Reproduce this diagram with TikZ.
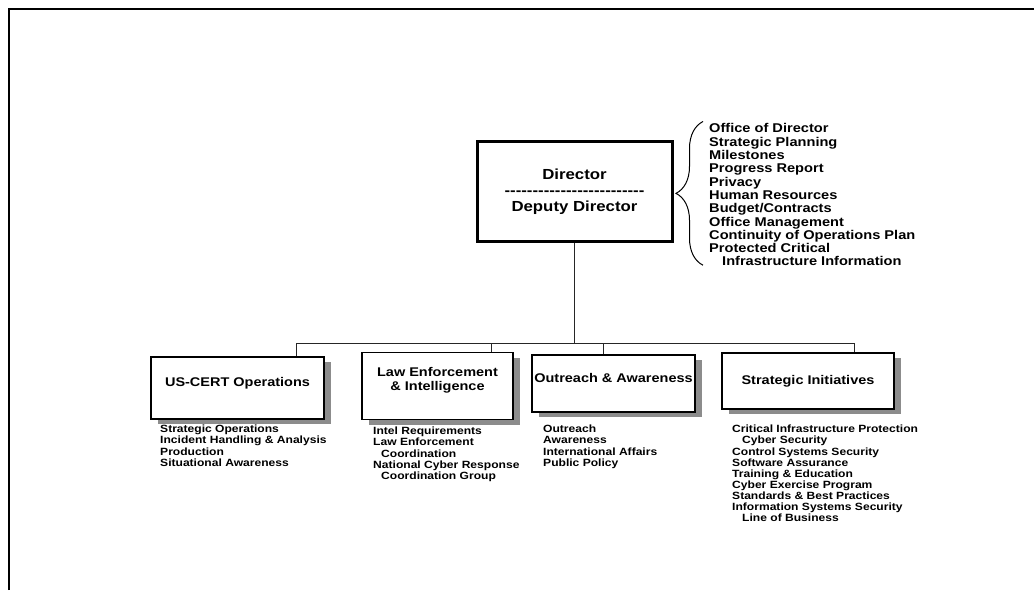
\documentclass[tikz,border=0pt]{standalone}
\usepackage{fontspec}
\setmainfont{Liberation Sans}[FakeStretch=1.15]
\usetikzlibrary{shapes}
\usetikzlibrary{positioning}
\usetikzlibrary{shadows}
\usetikzlibrary{decorations.pathreplacing}

\begin{document}
\begin{tikzpicture}[x=1pt,y=-1pt]
\tikzstyle{chief}=[draw=black,line width=3pt,minimum width=195pt,minimum height=100pt,align=center,font=\bfseries\fontsize{14.6}{16}\selectfont]
\tikzstyle{unit}=[draw=black,fill=white,line width=1.3pt,align=center,inner sep=0pt,font=\bfseries\fontsize{12.6}{14}\selectfont,
  drop shadow={shadow xshift=7pt,shadow yshift=-5pt,fill=black!45,opacity=1}]
\tikzstyle{duties}=[anchor=north west,align=left,inner sep=0pt,font=\bfseries\fontsize{10.5}{11.1}\selectfont]
\tikzstyle{tree}=[line width=0.9pt,draw=black!85]
\useasboundingbox (0,0) rectangle (1034,590);
\draw[line width=2pt] (9,590) -- (9,9) -- (1034,9);

\node[chief] (dir) at (574.5,191.5) {Director\\\foreach \k in {1,...,25}{-}\\Deputy Director};
\node[anchor=north west,align=left,inner sep=0pt,font=\bfseries\fontsize{12.7}{13.3}\selectfont] (staff) at (709,123.5)
  {Office of Director\\Strategic Planning\\Milestones\\Progress Report\\Privacy\\Human Resources\\Budget/Contracts\\
   Office Management\\Continuity of Operations Plan\\Protected Critical\\\hspace*{13pt}Infrastructure Information};
\draw[line width=1pt,decorate,decoration={brace,amplitude=27pt,aspect=0.5}]
  ([xshift=-6pt,yshift=1pt]staff.south west) -- ([xshift=-6pt,yshift=2pt]staff.north west);

\node[unit,minimum width=173pt,minimum height=62pt,text depth=12pt,text height=9pt] (cert) at (237.5,388) {US-CERT Operations};
\node[unit,minimum width=151pt,minimum height=67pt] (law) at (437.5,386) {Law Enforcement\\\& Intelligence\\[1pt]};
\node[unit,minimum width=163pt,minimum height=57pt,text depth=12pt,text height=9pt] (reach) at (613.5,383.5) {Outreach \& Awareness};
\node[unit,minimum width=172pt,minimum height=56pt] (strat) at (808,381) {Strategic Initiatives};

\coordinate (bus) at (574.5,343);
\draw[tree] (dir.south) -- (bus) -| ([xshift=58.5pt]cert.north);
\draw[tree] (bus) -| ([xshift=53.5pt]law.north);
\draw[tree] (bus) -| ([xshift=-10.5pt]reach.north);
\draw[tree] (bus) -| ([xshift=46pt]strat.north);

\node[duties] (certlist) at (160,425) {Strategic Operations\\Incident Handling \& Analysis\\Production\\Situational Awareness};
\node[duties] (lawlist) at (373,427) {Intel Requirements\\Law Enforcement\\\hspace*{8pt}Coordination\\National Cyber Response\\\hspace*{8pt}Coordination Group};
\node[duties] (reachlist) at (543,425) {Outreach\\Awareness\\International Affairs\\Public Policy};
\node[duties] (stratlist) at (732,425) {Critical Infrastructure Protection\\\hspace*{10pt}Cyber Security\\Control Systems Security\\Software Assurance\\
  Training \& Education\\Cyber Exercise Program\\Standards \& Best Practices\\Information Systems Security\\\hspace*{10pt}Line of Business};
\end{tikzpicture}
\end{document}
